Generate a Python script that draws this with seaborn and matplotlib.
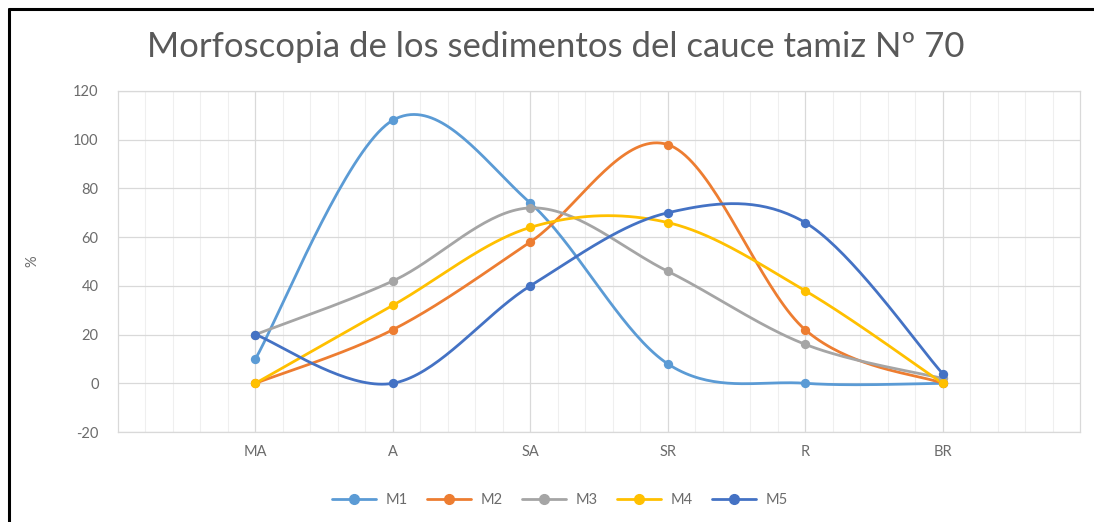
import numpy as np
import pandas as pd
import matplotlib
matplotlib.use("Agg")
import matplotlib.pyplot as plt
import seaborn as sns
from matplotlib.lines import Line2D
from matplotlib.ticker import FixedLocator

# Categorías morfoscópicas y porcentajes por muestra
categories = ["MA", "A", "SA", "SR", "R", "BR"]
series_names = ["M1", "M2", "M3", "M4", "M5"]
m1 = [10, 108, 74, 8, 0, 0]
m2 = [0, 22, 58, 98, 22, 0]
m3 = [20, 42, 72, 46, 16, 2]
m4 = [0, 32, 64, 66, 38, 0]
m5 = [20, 0, 40, 70, 66, 4]
y_ticks = [-20, 0, 20, 40, 60, 80, 100, 120]
title_text = "Morfoscopia de los sedimentos del cauce tamiz Nº 70"
y_label = "%"

palette = {"M1": "#5B9BD5", "M2": "#ED7D31", "M3": "#A5A5A5",
           "M4": "#FFC000", "M5": "#4472C4"}
values = dict(zip(series_names, [m1, m2, m3, m4, m5]))

sns.set_theme(style="white")
plt.rcParams["font.family"] = ["Lato", "DejaVu Sans"]
plt.rcParams["axes.unicode_minus"] = False
text_grey = "#6b6b6b"
grid_grey = "#d9d9d9"


def smooth_curve(xs, ys, n=40):
    """Cubic Bezier smoothing through the points (Catmull-Rom style tangents)."""
    pts = np.column_stack([xs, ys]).astype(float)
    padded = np.vstack([pts[0], pts, pts[-1]])
    t = np.linspace(0, 1, n)[:, None]
    parts = []
    for i in range(len(pts) - 1):
        p0, p3 = padded[i + 1], padded[i + 2]
        c1 = p0 + (padded[i + 2] - padded[i]) / 6
        c2 = p3 - (padded[i + 3] - padded[i + 1]) / 6
        seg = ((1 - t) ** 3) * p0 + 3 * t * (1 - t) ** 2 * c1 \
            + 3 * t ** 2 * (1 - t) * c2 + t ** 3 * p3
        parts.append(seg if i == 0 else seg[1:])
    return np.vstack(parts)


fig = plt.figure(figsize=(10.94, 5.22), dpi=100)
ax = fig.add_axes([118 / 1094, 1 - 432 / 522, (1080 - 118) / 1094, (432 - 91) / 522])

xpos = np.arange(len(categories))
for name in series_names:
    curve = smooth_curve(xpos, values[name])
    curve_df = pd.DataFrame({"x": curve[:, 0], "y": curve[:, 1]})
    sns.lineplot(data=curve_df, x="x", y="y", ax=ax, color=palette[name],
                 lw=2.0, estimator=None, sort=False, zorder=3)
    pts_df = pd.DataFrame({"x": xpos, "y": values[name]})
    sns.scatterplot(data=pts_df, x="x", y="y", ax=ax, color=palette[name],
                    s=45, linewidth=0, zorder=4)

ax.set_xlim(-1, len(categories))
ax.set_ylim(y_ticks[0], y_ticks[-1])
ax.set_xticks(xpos, categories)
ax.set_yticks(y_ticks)
ax.xaxis.set_minor_locator(FixedLocator(
    [v for v in np.arange(-1, len(categories) + 0.01, 0.2)
     if abs(v - round(v)) > 1e-6]))
ax.grid(which="major", axis="both", color=grid_grey, lw=0.9)
ax.grid(which="minor", axis="x", color="#efefef", lw=0.8)
ax.set_axisbelow(True)
for s in ax.spines.values():
    s.set_color(grid_grey)
    s.set_linewidth(0.9)
ax.tick_params(axis="both", which="both", length=0, colors=text_grey,
               labelsize=10.5)
ax.tick_params(axis="y", pad=14)
ax.tick_params(axis="x", pad=9)
ax.set_xlabel("")
ax.set_ylabel(y_label, color=text_grey, fontsize=10.5, labelpad=24)

handles = [Line2D([], [], color=palette[n], lw=2.0, marker="o", markersize=7)
           for n in series_names]
fig.legend(handles, series_names, loc="center", bbox_to_anchor=(560 / 1094, 1 - 500 / 522),
           ncol=5, frameon=False, fontsize=10.5, handlelength=3.0,
           handletextpad=0.7, columnspacing=1.3, labelcolor=text_grey)

fig.text(556 / 1094, 1 - 47 / 522, title_text, ha="center", va="center",
         fontsize=25, color="#595959")

# Chart frame edges
fig.add_artist(Line2D([9 / 1094, 9 / 1094], [0, 1 - 9 / 522], color="black",
                      lw=2.2, transform=fig.transFigure))
fig.add_artist(Line2D([9 / 1094, 1], [1 - 9 / 522, 1 - 9 / 522], color="black",
                      lw=2.2, transform=fig.transFigure))

fig.savefig("out.png", dpi=100, facecolor="white")
